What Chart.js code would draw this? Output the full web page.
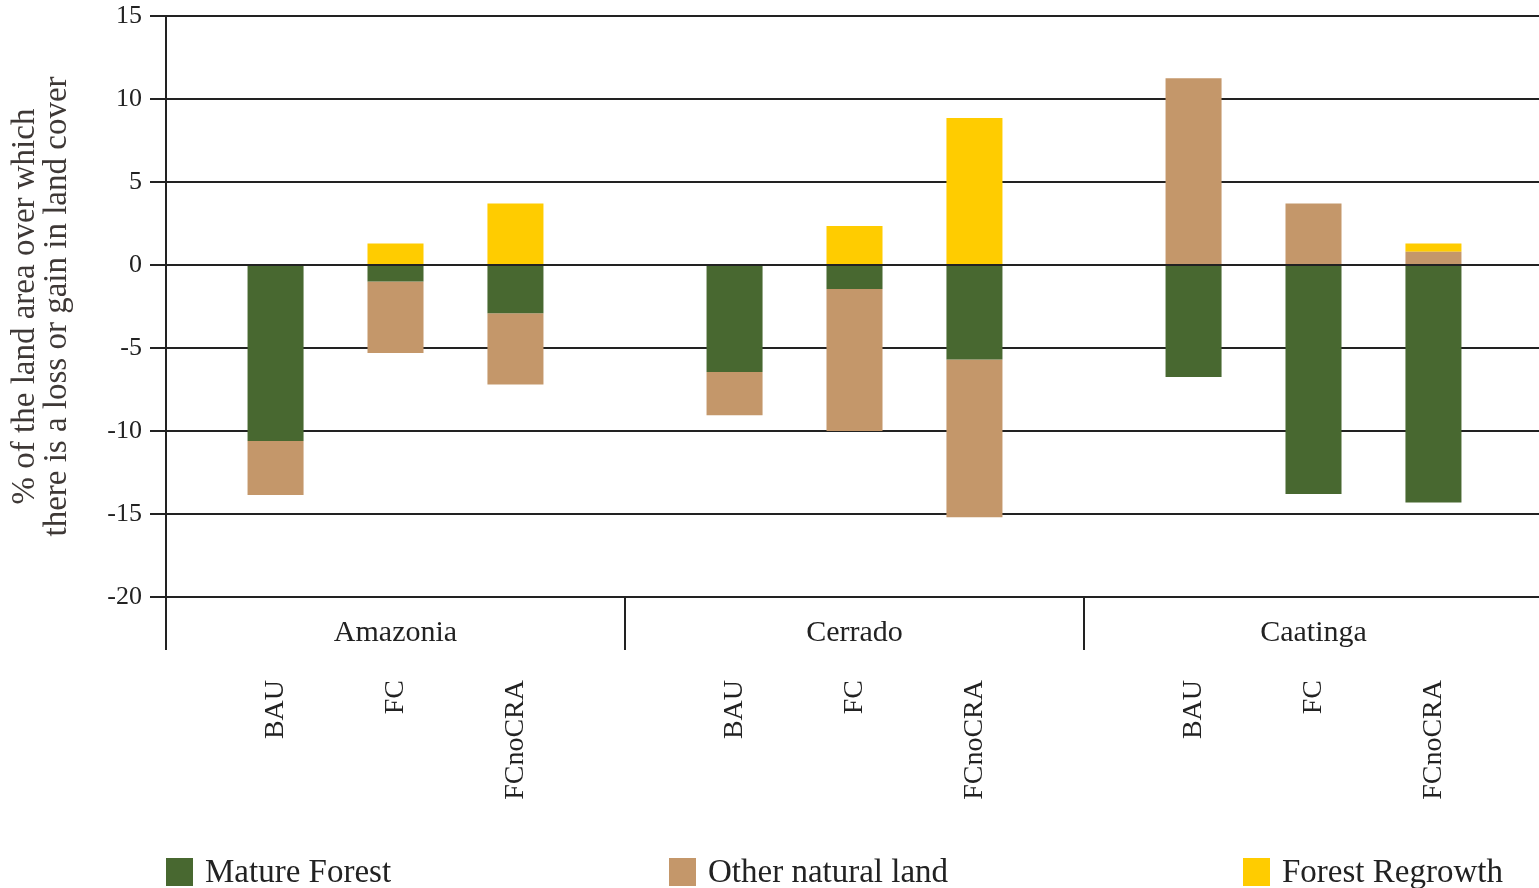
<!DOCTYPE html>
<html>
<head>
<meta charset="utf-8">
<script src="https://cdn.jsdelivr.net/npm/chart.js@4.4.0/dist/chart.umd.min.js"></script>
<style>
  html, body { margin: 0; padding: 0; background: #fff; overflow: hidden; }
  #wrap { position: relative; width: 1543px; height: 888px; }
  #legend { position: absolute; left: 0; top: 0; width: 100%; height: 100%; pointer-events: none; }
  .lg-item { position: absolute; top: 853px; display: flex; align-items: center;
             font-family: "Liberation Serif", serif; font-size: 33px; color: #222; }
  .lg-box { width: 27px; height: 28px; margin-right: 12px; }
</style>
</head>
<body>
<div id="wrap">
  <canvas id="chart"></canvas>
  <div id="legend"></div>
</div>
<script>
// ── Données ──────────────────────────────────────────────────────────
const regions   = ["Amazonia", "Cerrado", "Caatinga"];
const scenarios = ["BAU", "FC", "FCnoCRA"];

// valeurs par barre : Amazonia BAU/FC/FCnoCRA, Cerrado ..., Caatinga ...
const matureForest = [-10.6, -1.0, -2.9,   -6.45, -1.45, -5.7,   -6.75, -13.8, -14.3];
const otherNatural = [-3.25, -4.3, -4.3,   -2.6,  -8.55, -9.5,   11.25,  3.7,   0.8];
const regrowth     = [ 0,     1.3,  3.7,    0,     2.35,  8.85,   0,      0,     0.5];

const yTicks = [-20, -15, -10, -5, 0, 5, 10, 15];

const series = [
  { name: "Mature Forest",      values: matureForest, color: "#486830" },
  { name: "Other natural land", values: otherNatural, color: "#C4976A" },
  { name: "Forest Regrowth",    values: regrowth,     color: "#FFCC00" },
];
const legendX = [166, 669, 1243];

const FONT = "'Liberation Serif', serif";
const INK  = "#222";

// ── Datasets : une pile par scénario ────────────────────────────────
const datasets = [];
series.forEach((s, si) => {
  scenarios.forEach((sc, k) => {
    datasets.push({
      label: s.name,
      data: regions.map((_, r) => s.values[r * 3 + k]),
      backgroundColor: s.color,
      borderWidth: 0,
      stack: sc,
      categoryPercentage: 0.784,
      barPercentage: 0.467,
      _series: si,
      _scenario: k,
    });
  });
});

// ── Étiquettes des scénarios sous l'axe ─────────────────────────────
const scenarioLabels = {
  id: "scenarioLabels",
  afterDraw(chart) {
    const ctx = chart.ctx;
    ctx.save();
    ctx.font = `28px ${FONT}`;
    ctx.fillStyle = INK;
    ctx.textAlign = "right";
    ctx.textBaseline = "middle";
    chart.data.datasets.forEach((ds, i) => {
      if (ds._series !== 0) return;
      const meta = chart.getDatasetMeta(i);
      meta.data.forEach((bar) => {
        ctx.save();
        ctx.translate(bar.x, 680);
        ctx.rotate(-Math.PI / 2);
        ctx.fillText(scenarios[ds._scenario], 0, 0);
        ctx.restore();
      });
    });
    ctx.restore();
  },
};

new Chart(document.getElementById("chart"), {
  type: "bar",
  data: { labels: regions, datasets },
  plugins: [scenarioLabels],
  options: {
    responsive: true,
    maintainAspectRatio: false,
    animation: false,
    layout: { padding: { top: 16, right: 0, left: 0, bottom: 0 } },
    plugins: { legend: { display: false }, tooltip: { enabled: false } },
    scales: {
      x: {
        stacked: true,
        afterFit: (s) => { s.height = 291; },
        grid: {
          offset: true,
          drawOnChartArea: false,
          drawTicks: true,
          tickLength: 53,
          color: INK,
          lineWidth: 2,
        },
        border: { display: true, color: INK, width: 2 },
        ticks: { font: { family: FONT, size: 30 }, color: INK, padding: -35, maxRotation: 0 },
      },
      y: {
        stacked: true,
        min: -20,
        max: 15,
        afterFit: (s) => { s.width = 166; s.paddingTop = 0; s.paddingBottom = 0; },
        afterBuildTicks: (s) => { s.ticks = yTicks.map((v) => ({ value: v })); },
        grid: { color: INK, lineWidth: 2, tickLength: 16, drawTicks: true },
        border: { display: true, color: INK, width: 2 },
        ticks: { font: { family: FONT, size: 26 }, color: INK, padding: 8 },
        title: {
          display: true,
          text: ["% of the land area over which", "there is a loss or gain in land cover"],
          font: { family: FONT, size: 33, lineHeight: 0.97 },
          color: "#3e3836",
          padding: { top: 9 },
        },
      },
    },
  },
});

// ── Légende HTML ─────────────────────────────────────────────────────
const legendEl = document.getElementById("legend");
series.forEach((s, i) => {
  const item = document.createElement("div");
  item.className = "lg-item";
  item.style.left = legendX[i] + "px";
  item.innerHTML = `<span class="lg-box" style="background:${s.color}"></span><span>${s.name}</span>`;
  legendEl.appendChild(item);
});
</script>
</body>
</html>
